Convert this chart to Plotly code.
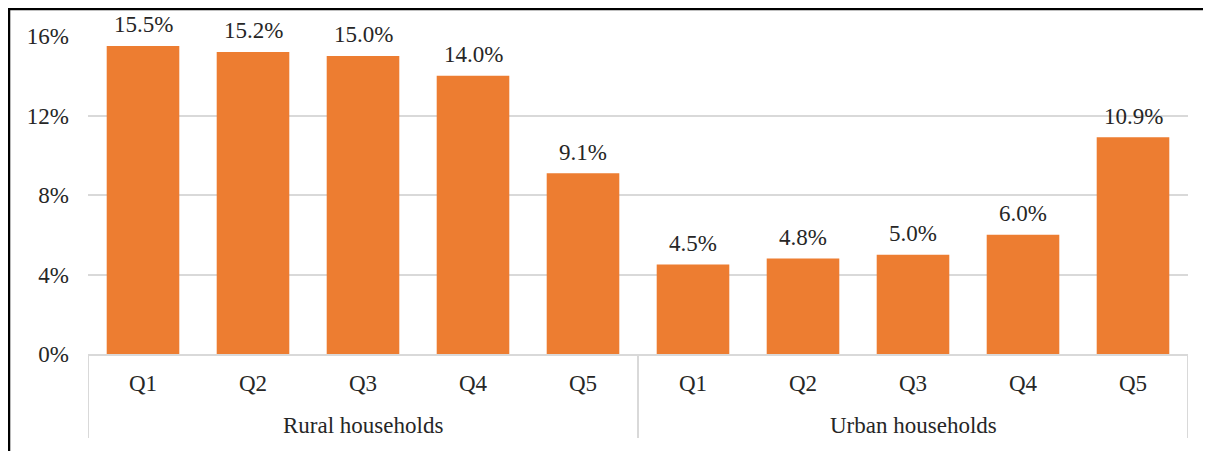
import plotly.graph_objects as go

group_names = ["Rural households", "Urban households"]
quintiles = ["Q1", "Q2", "Q3", "Q4", "Q5"]
rural = [0.155, 0.152, 0.150, 0.140, 0.091]
urban = [0.045, 0.048, 0.050, 0.060, 0.109]
yticks = [0, 0.04, 0.08, 0.12, 0.16]

FONT = "Liberation Serif, Times New Roman, serif"
ORANGE = "#ED7D31"
GRID = "#D9D9D9"
TXT = "#262626"
FS = 23

values = rural + urban
labels = quintiles + quintiles
xpos = list(range(len(values)))

fig = go.Figure(
    go.Bar(
        x=xpos,
        y=values,
        marker=dict(color=ORANGE, line=dict(width=0)),
        hoverinfo="y",
    )
)

# data labels
for xi, v in zip(xpos, values):
    fig.add_annotation(x=xi, y=v, xref="x", yref="y", text=f"{v*100:.1f}%",
                       showarrow=False, yanchor="middle", yshift=21,
                       font=dict(family=FONT, size=FS, color=TXT))

# group labels
n = len(quintiles)
for gi, g in enumerate(group_names):
    fig.add_annotation(x=gi * n + (n - 1) / 2, y=-0.225, xref="x", yref="paper", text=g,
                       showarrow=False, yanchor="middle",
                       font=dict(family=FONT, size=FS, color=TXT))

# group dividers
for b in [-0.5, n - 0.5, 2 * n - 0.5]:
    fig.add_shape(type="line", xref="x", yref="paper", x0=b, x1=b, y0=0, y1=-0.264,
                  line=dict(color=GRID, width=2))

fig.update_layout(
    width=1203,
    height=443,
    margin=dict(l=80, r=23, t=28, b=97),
    paper_bgcolor="white",
    plot_bgcolor="white",
    bargap=0.34,
    showlegend=False,
    font=dict(family=FONT, size=FS, color=TXT),
)

fig.update_yaxes(
    range=[0, 0.16],
    tickvals=yticks,
    tickformat=".0%",
    showgrid=True,
    gridcolor=GRID,
    gridwidth=2,
    zeroline=False,
    showline=False,
    ticks="",
    ticklabelstandoff=18,
    automargin=False,
    tickfont=dict(family=FONT, size=FS, color=TXT),
)
fig.update_xaxes(
    range=[-0.5, 2 * n - 0.5],
    tickvals=xpos,
    ticktext=labels,
    showline=True,
    linecolor=GRID,
    linewidth=2,
    showgrid=False,
    zeroline=False,
    ticks="",
    ticklabelstandoff=7,
    automargin=False,
    tickfont=dict(family=FONT, size=FS, color=TXT),
)

# frame (left and top edges visible in the reference; right/bottom fall outside)
fig.add_shape(type="rect", xref="paper", yref="paper", x0=-0.0718, x1=1.1, y0=-0.5, y1=1.0849,
              line=dict(color="black", width=2.5), fillcolor="rgba(0,0,0,0)", layer="above")

fig.write_html("out.html")
